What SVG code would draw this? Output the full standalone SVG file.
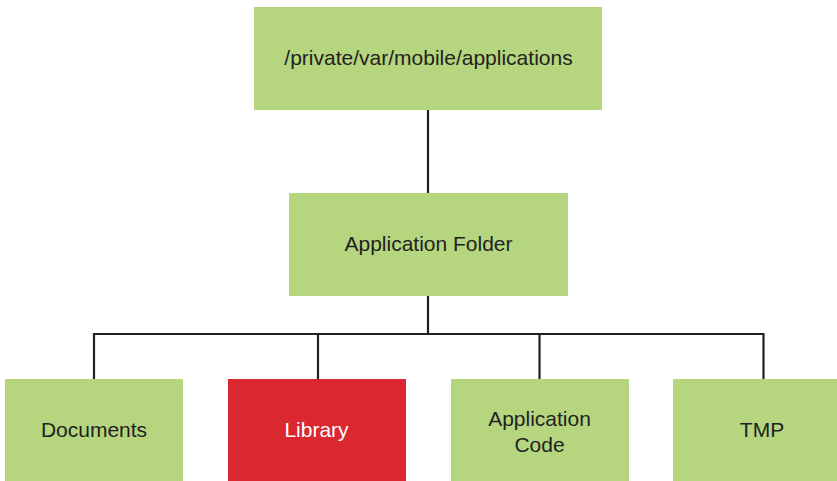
<svg xmlns="http://www.w3.org/2000/svg" width="837" height="481" viewBox="0 0 837 481">
  <style>
    .box { fill: #b5d67f; }
    .hot { fill: #da2730; }
    .lbl { font-family: "Liberation Sans", Arial, sans-serif; font-size: 21px; fill: #231f20; text-anchor: middle; }
    .lbl.light { fill: #ffffff; }
    .wire { fill: none; stroke: #231f20; stroke-width: 2.2; }
  </style>
  <rect width="837" height="481" fill="#ffffff"/>
  <g id="connectors">
    <path class="wire" d="M428,110 V193"/>
    <path class="wire" d="M428,296 V334"/>
    <path class="wire" d="M94,379 V334 H763.5 V379"/>
    <path class="wire" d="M318,334 V379"/>
    <path class="wire" d="M539.5,334 V379"/>
  </g>
  <g id="root">
    <rect class="box" x="254" y="7" width="348" height="103"/>
    <text class="lbl" x="428.5" y="65">/private/var/mobile/applications</text>
  </g>
  <g id="app-folder">
    <rect class="box" x="289" y="193" width="279" height="103"/>
    <text class="lbl" x="428.5" y="251">Application Folder</text>
  </g>
  <g id="documents">
    <rect class="box" x="5" y="379" width="178" height="102"/>
    <text class="lbl" x="94" y="437">Documents</text>
  </g>
  <g id="library">
    <rect class="hot" x="228" y="379" width="178" height="102"/>
    <text class="lbl light" x="316.5" y="437">Library</text>
  </g>
  <g id="app-code">
    <rect class="box" x="451" y="379" width="178" height="102"/>
    <text class="lbl" x="539.5" y="426">Application</text>
    <text class="lbl" x="539.5" y="452">Code</text>
  </g>
  <g id="tmp">
    <rect class="box" x="673" y="379" width="164" height="102"/>
    <text class="lbl" x="762" y="437">TMP</text>
  </g>
</svg>
